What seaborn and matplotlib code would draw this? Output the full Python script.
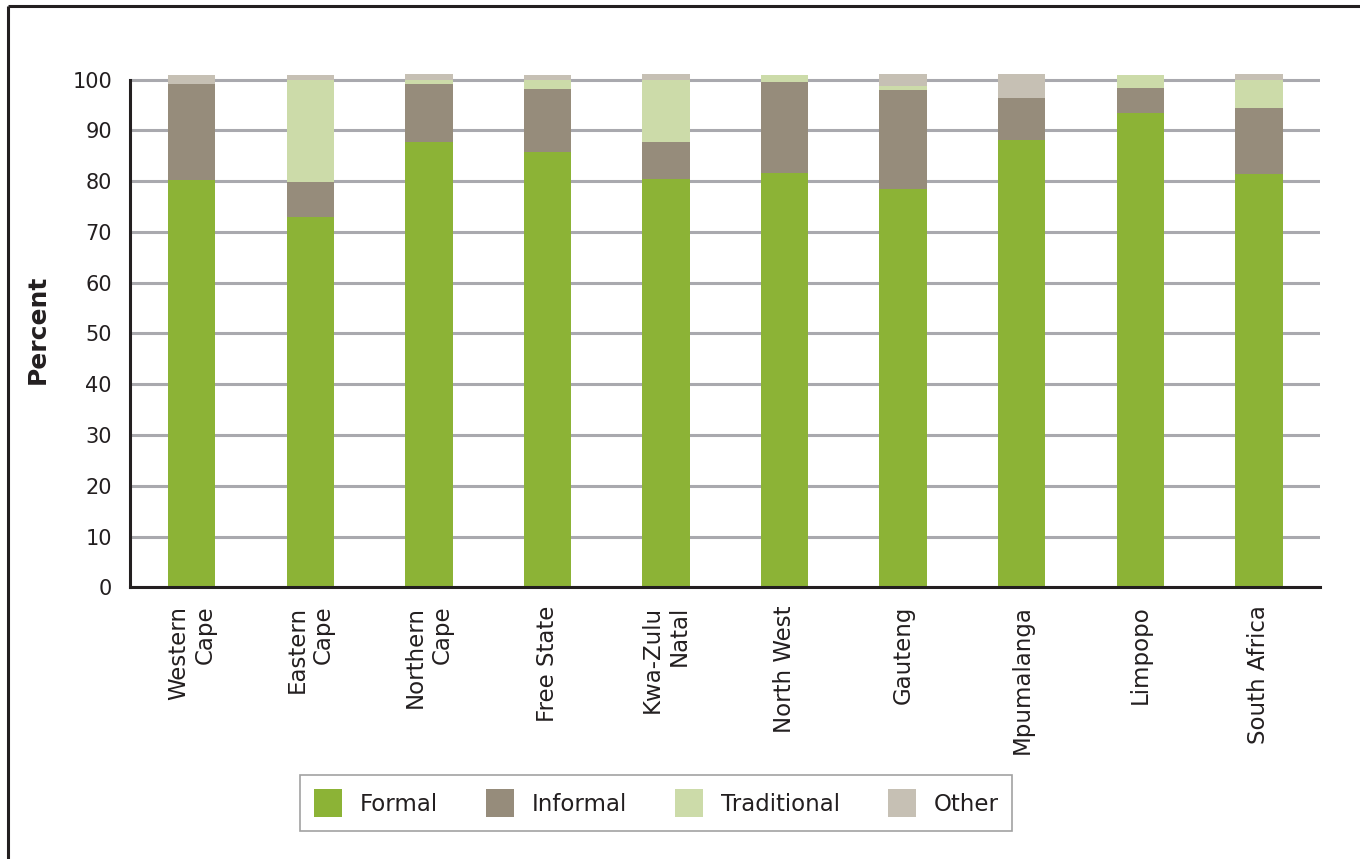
import matplotlib
matplotlib.use("Agg")
import matplotlib.pyplot as plt
from matplotlib.patches import Patch
from matplotlib.lines import Line2D
import seaborn as sns
import pandas as pd
import numpy as np

provinces = ["Western\nCape", "Eastern\nCape", "Northern\nCape", "Free State", "Kwa-Zulu\nNatal",
             "North West", "Gauteng", "Mpumalanga", "Limpopo", "South Africa"]
formal      = [80.2, 72.9, 87.7, 85.7, 80.4, 81.6, 78.4, 88.1, 93.4, 81.4]
informal    = [18.9,  6.9, 11.4, 12.4,  7.3, 17.9, 19.5,  8.3,  4.9, 13.0]
traditional = [ 0.0, 20.1,  0.8,  1.8, 12.2,  1.4,  0.8,  0.0,  2.6,  5.5]
other       = [ 1.8,  1.0,  1.2,  1.0,  1.2,  0.0,  2.4,  4.7,  0.0,  1.2]
series_names = ["Formal", "Informal", "Traditional", "Other"]
colors = ["#8cb336", "#968c7b", "#ccdba9", "#c6c0b4"]

sns.set_theme(style="white")
plt.rcParams["font.family"] = ["DejaVu Sans"]

fig = plt.figure(figsize=(13.6, 8.59), dpi=100, facecolor="white", edgecolor="white", linewidth=0)
ax = fig.add_axes([130/1360, 0.3161, (1320-130)/1360, 0.6002])

df = pd.DataFrame({"Province": provinces, "Formal": formal, "Informal": informal,
                   "Traditional": traditional, "Other": other})
cum = df[series_names].cumsum(axis=1)

for name, col in zip(reversed(series_names), reversed(colors)):
    sns.barplot(x=df["Province"], y=cum[name], color=col, width=0.40,
                saturation=1, ax=ax, zorder=3, edgecolor="none", linewidth=0)

ax.set_ylim(0, 101.5)
ax.set_xlim(-0.52, 9.515)
ax.set_yticks(range(0, 101, 10))
ax.yaxis.grid(True, color="#a9a9ae", linewidth=2.2, zorder=0)
ax.set_axisbelow(True)
for s in ["top", "right"]:
    ax.spines[s].set_visible(False)
ax.spines["left"].set_bounds(0, 100)
ax.spines["left"].set_color("#231f20")
ax.spines["left"].set_linewidth(2.2)
ax.spines["bottom"].set_color("#231f20")
ax.spines["bottom"].set_linewidth(2.2)
ax.spines["left"].set_zorder(5)
ax.spines["bottom"].set_zorder(5)

ax.tick_params(axis="y", length=0, pad=13, labelsize=15, labelcolor="#231f20")
ax.tick_params(axis="x", length=0, pad=13, labelsize=16.5, labelcolor="#231f20")
for lbl in ax.get_xticklabels():
    lbl.set_rotation(90)
    lbl.set_ha("center")
    lbl.set_va("top")
    lbl.set_multialignment("right")

ax.set_xlabel("")
ax.set_ylabel("Percent", fontsize=18, fontweight="bold", color="#231f20", labelpad=16)

handles = [Patch(facecolor=c, edgecolor="none", label=n) for n, c in zip(series_names, colors)]
leg = fig.legend(handles=handles, ncol=4, loc="center", bbox_to_anchor=(0.4824, 0.0652),
                 frameon=True, fancybox=False, fontsize=16.5, handlelength=1.25, handleheight=1.5,
                 handletextpad=0.75, columnspacing=2.1, borderpad=0.6)
leg.get_frame().set_edgecolor("#8a8a8a")
leg.get_frame().set_linewidth(1.2)
for t in leg.get_texts():
    t.set_color("#231f20")

# outer frame: top and left edges only (open on the right and bottom)
fig.add_artist(Line2D([8/1360, 1.02], [1 - 6/859, 1 - 6/859], transform=fig.transFigure,
                      color="#231f20", linewidth=2.2, solid_capstyle="butt"))
fig.add_artist(Line2D([8/1360, 8/1360], [-0.02, 1 - 6/859], transform=fig.transFigure,
                      color="#231f20", linewidth=2.2, solid_capstyle="butt"))

fig.savefig("out.png", dpi=100, facecolor="white", edgecolor="none")
